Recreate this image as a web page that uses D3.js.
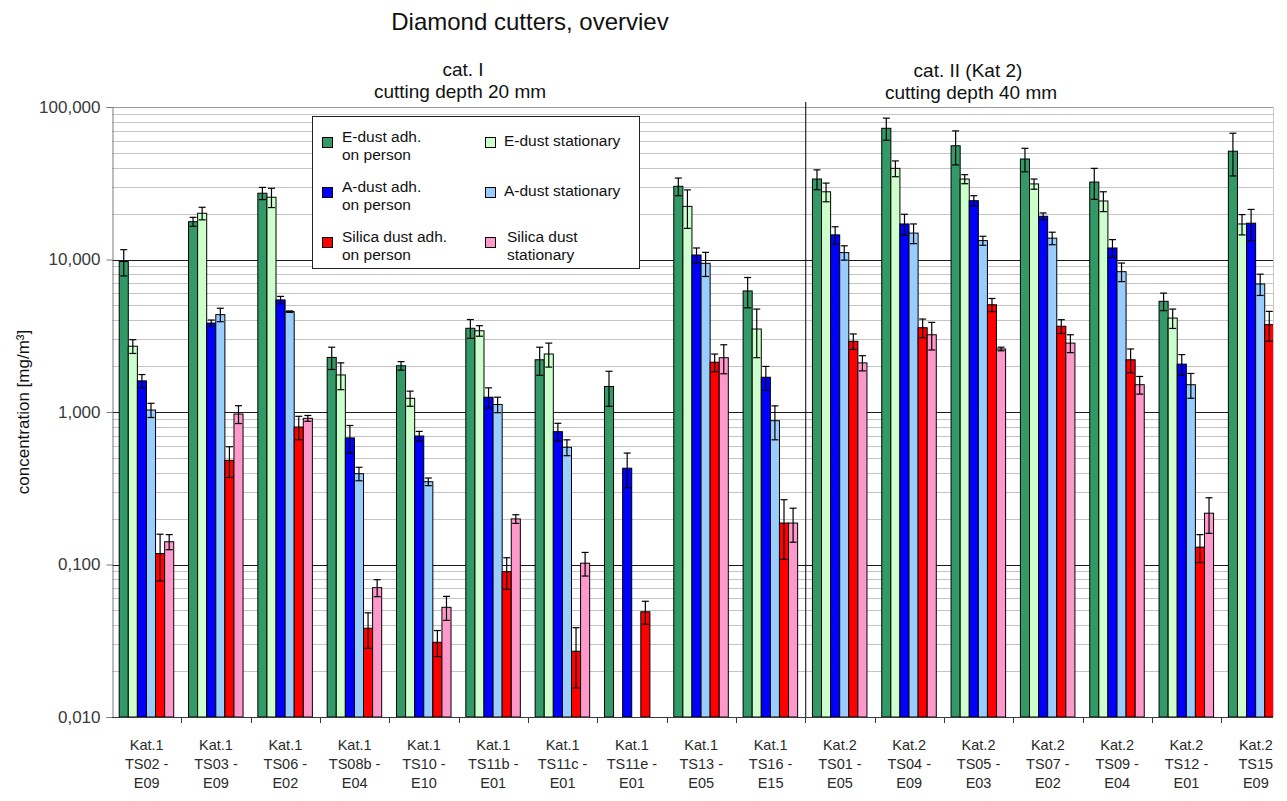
<!DOCTYPE html>
<html><head><meta charset="utf-8">
<script src="https://cdn.jsdelivr.net/npm/d3@7/dist/d3.min.js"></script>
<style>
html,body{margin:0;padding:0;background:#fff;}
svg{display:block;font-family:"Liberation Sans",Arial,sans-serif;}
</style></head>
<body><svg id="chart" width="1287" height="801"></svg>
<script>
// ---------- DATA ----------
const categories = ["Kat.1 TS02 - E09","Kat.1 TS03 - E09","Kat.1 TS06 - E02","Kat.1 TS08b - E04","Kat.1 TS10 - E10",
  "Kat.1 TS11b - E01","Kat.1 TS11c - E01","Kat.1 TS11e - E01","Kat.1 TS13 - E05","Kat.1 TS16 - E15",
  "Kat.2 TS01 - E05","Kat.2 TS04 - E09","Kat.2 TS05 - E03","Kat.2 TS07 - E02","Kat.2 TS09 - E04","Kat.2 TS12 - E01","Kat.2 TS15 E09"];
const categoryLines = [["Kat.1","TS02 -","E09"],["Kat.1","TS03 -","E09"],["Kat.1","TS06 -","E02"],["Kat.1","TS08b -","E04"],
  ["Kat.1","TS10 -","E10"],["Kat.1","TS11b -","E01"],["Kat.1","TS11c -","E01"],["Kat.1","TS11e -","E01"],
  ["Kat.1","TS13 -","E05"],["Kat.1","TS16 -","E15"],["Kat.2","TS01 -","E05"],["Kat.2","TS04 -","E09"],
  ["Kat.2","TS05 -","E03"],["Kat.2","TS07 -","E02"],["Kat.2","TS09 -","E04"],["Kat.2","TS12 -","E01"],["Kat.2","TS15","E09"]];

const seriesNames = ["E-dust adh. on person","E-dust stationary","A-dust adh. on person","A-dust stationary","Silica dust adh. on person","Silica dust stationary"];

const eAdh     = [9.7, 17.7, 27.2, 2.28, 2.01, 3.54, 2.20, 1.47, 30.2, 6.22, 33.7, 72.5, 55.7, 45.6, 32.2, 5.32, 51.3];
const eAdhErr  = [1.9, 1.2, 2.5, 0.38, 0.13, 0.5, 0.46, 0.38, 4.0, 1.4, 5.0, 12, 14, 8, 7.4, 0.7, 16];
const eSta     = [2.70, 20.1, 25.6, 1.75, 1.23, 3.41, 2.40, null, 22.3, 3.50, 27.8, 39.6, 33.7, 31.3, 24.2, 4.13, 17.1];
const eStaErr  = [0.28, 1.9, 3.7, 0.35, 0.14, 0.27, 0.43, null, 6.3, 1.23, 3.9, 4.7, 2.3, 2.4, 3.6, 0.6, 2.6];
const aAdh     = [1.60, 3.83, 5.43, 0.676, 0.696, 1.25, 0.743, 0.428, 10.7, 1.69, 14.5, 17.1, 24.3, 19.2, 11.9, 2.06, 17.3];
const aAdhErr  = [0.16, 0.18, 0.3, 0.14, 0.05, 0.19, 0.10, 0.11, 1.2, 0.3, 1.9, 2.7, 1.9, 1.0, 1.6, 0.32, 4.0];
const aSta     = [1.03, 4.35, 4.55, 0.394, 0.349, 1.12, 0.587, null, 9.44, 0.877, 11.1, 14.9, 13.3, 13.8, 8.32, 1.51, 6.91];
const aStaErr  = [0.11, 0.44, 0.05, 0.04, 0.02, 0.13, 0.07, null, 1.7, 0.22, 1.2, 2.2, 0.9, 1.3, 1.16, 0.28, 1.1];
const sAdh     = [0.118, 0.482, 0.797, 0.0382, 0.0309, 0.0897, 0.027, 0.049, 2.12, 0.187, 2.91, 3.57, 5.05, 3.65, 2.20, 0.130, 3.74];
const sAdhErr  = [0.04, 0.11, 0.14, 0.010, 0.006, 0.021, 0.0115, 0.0084, 0.28, 0.079, 0.34, 0.5, 0.5, 0.38, 0.39, 0.027, 0.83];
const sSta     = [0.141, 0.97, 0.909, 0.0705, 0.0524, 0.199, 0.102, null, 2.27, 0.187, 2.10, 3.21, 2.59, 2.83, 1.51, 0.217, 1.53];
const sStaErr  = [0.016, 0.13, 0.04, 0.009, 0.0094, 0.013, 0.018, null, 0.49, 0.047, 0.24, 0.66, 0.07, 0.38, 0.2, 0.057, 0.3];

const yTicks = [0.01, 0.1, 1, 10, 100];

// ---------- BUILD ----------
const seriesValues = [eAdh, eSta, aAdh, aSta, sAdh, sSta];
const seriesErrors = [eAdhErr, eStaErr, aAdhErr, aStaErr, sAdhErr, sStaErr];
const colors = ["#339966","#ccffcc","#0000ff","#99ccff","#ff0000","#ff99cc"];

const svg = d3.select("#chart");
const pL = 112, pR = 1290.5, pT = 107, pB = 717, clipR = 1273;

const x0 = d3.scaleBand().domain(categories).range([pL, pR]).padding(0);
const x1 = d3.scaleBand().domain(seriesNames).range([7.2, x0.bandwidth() - 7.6]).padding(0);
const y = d3.scaleLog().domain([0.01, 100]).range([pB, pT]);

svg.append("defs").append("clipPath").attr("id","plotclip")
  .append("rect").attr("x", pL).attr("y", pT - 40).attr("width", clipR - pL).attr("height", pB - pT + 40);

// gridlines
const minor = [];
for (let d = 0.01; d < 99; d *= 10) for (let k = 2; k <= 9; k++) minor.push(+(d * k).toPrecision(3));
const grid = svg.append("g");
grid.selectAll("line.minor").data(minor).join("line")
  .attr("x1", pL).attr("x2", clipR).attr("y1", d => Math.round(y(d)) + 0.5).attr("y2", d => Math.round(y(d)) + 0.5)
  .attr("stroke", "#c4c4c4").attr("stroke-width", 1);
grid.selectAll("line.major").data([0.1, 1, 10]).join("line")
  .attr("x1", pL).attr("x2", clipR).attr("y1", d => Math.round(y(d)) + 0.5).attr("y2", d => Math.round(y(d)) + 0.5)
  .attr("stroke", "#1a1a1a").attr("stroke-width", 1);
svg.append("line").attr("x1", pL).attr("x2", clipR).attr("y1", pT + 0.5).attr("y2", pT + 0.5).attr("stroke", "#9a9a9a");
svg.append("line").attr("x1", clipR + 0.5).attr("x2", clipR + 0.5).attr("y1", pT).attr("y2", pB).attr("stroke", "#c8c8c8");

// bars
const rows = [];
seriesNames.forEach((s, si) => categories.forEach((c, ci) => {
  const v = seriesValues[si][ci];
  if (v != null) rows.push({s, si, c, ci, v, e: seriesErrors[si][ci]});
}));
const plot = svg.append("g").attr("clip-path", "url(#plotclip)");
plot.selectAll("rect.bar").data(rows).join("rect")
  .attr("x", d => x0(d.c) + x1(d.s))
  .attr("width", x1.bandwidth())
  .attr("y", d => y(d.v))
  .attr("height", d => pB - y(d.v))
  .attr("fill", d => colors[d.si])
  .attr("stroke", "#000").attr("stroke-width", 1);

// error bars
const eb = plot.selectAll("g.err").data(rows.filter(d => d.e)).join("g").attr("stroke", "#000").attr("stroke-width", 1.2);
const cx = d => x0(d.c) + x1(d.s) + x1.bandwidth() / 2;
const lo = d => y(Math.max(d.v - d.e, 0.0101));
eb.append("line").attr("x1", cx).attr("x2", cx).attr("y1", d => y(d.v + d.e)).attr("y2", lo);
eb.append("line").attr("x1", d => cx(d) - 3.5).attr("x2", d => cx(d) + 3.5).attr("y1", d => y(d.v + d.e)).attr("y2", d => y(d.v + d.e));
eb.append("line").attr("x1", d => cx(d) - 3.5).attr("x2", d => cx(d) + 3.5).attr("y1", lo).attr("y2", lo);

// y axis
const fmt = d3.formatLocale({decimal: ",", thousands: ".", grouping: [3], currency: ["", ""]}).format(".3f");
const yAxis = svg.append("g").attr("transform", `translate(${pL + 0.5},0)`)
  .call(d3.axisLeft(y).tickValues(yTicks).tickFormat(fmt).tickSize(6).tickPadding(6));
yAxis.select(".domain").attr("stroke", "#7a7a7a");
yAxis.selectAll(".tick line").attr("stroke", "#7a7a7a");
yAxis.selectAll(".tick text").attr("font-size", 17).attr("fill", "#3a3a3a").attr("font-family", "Liberation Sans, Arial, sans-serif");

// x axis
const xAxis = svg.append("g").attr("transform", `translate(0,${pB + 0.5})`)
  .call(d3.axisBottom(x0).tickSize(0).tickFormat(""));
xAxis.select(".domain").attr("stroke", "#3a3a3a").attr("d", `M${pL},0H${clipR}`);
svg.append("g").selectAll("line").data(categories.slice(1)).join("line")
  .attr("x1", d => Math.round(x0(d)) + 0.5).attr("x2", d => Math.round(x0(d)) + 0.5)
  .attr("y1", pB).attr("y2", pB + 6).attr("stroke", "#3a3a3a");
const xl = svg.append("g").attr("font-size", 14.5).attr("fill", "#2a2a2a").attr("text-anchor", "middle");
categories.forEach((c, i) => {
  const t = xl.append("text").attr("x", x0(c) + x0.bandwidth() / 2);
  categoryLines[i].forEach((ln, j) => t.append("tspan").attr("x", x0(c) + x0.bandwidth() / 2).attr("y", 750 + j * 19).text(ln));
});

// separator between categories
svg.append("line").attr("x1", x0(categories[10]) + 0.5).attr("x2", x0(categories[10]) + 0.5)
  .attr("y1", 102).attr("y2", pB).attr("stroke", "#000");

// titles
svg.append("text").attr("x", 530).attr("y", 30).attr("text-anchor", "middle").attr("font-size", 24).attr("fill", "#111")
  .text("Diamond cutters, overviev");
const h1 = svg.append("g").attr("font-size", 19).attr("fill", "#111").attr("text-anchor", "middle");
const t1 = h1.append("text");
t1.append("tspan").attr("x", 463).attr("y", 76).text("cat. I");
t1.append("tspan").attr("x", 460).attr("y", 97.5).text("cutting depth 20 mm");
const t2 = h1.append("text");
t2.append("tspan").attr("x", 968).attr("y", 77).text("cat. II (Kat 2)");
t2.append("tspan").attr("x", 971).attr("y", 98.5).text("cutting depth 40 mm");

// y label
svg.append("text").attr("transform", "translate(29,412) rotate(-90)").attr("text-anchor", "middle")
  .attr("font-size", 17).attr("fill", "#111").text("concentration [mg/m³]");

// legend
const lg = svg.append("g");
lg.append("rect").attr("x", 312.5).attr("y", 116.5).attr("width", 327).attr("height", 152)
  .attr("fill", "#fff").attr("stroke", "#222").attr("stroke-width", 1);
const legendItems = [
  {si: 0, x: 322, y: 137, lines: ["E-dust adh.", "on person"], tx: 342},
  {si: 2, x: 322, y: 187, lines: ["A-dust adh.", "on person"], tx: 342},
  {si: 4, x: 322, y: 237, lines: ["Silica dust adh.", "on person"], tx: 342},
  {si: 1, x: 485, y: 137, lines: ["E-dust stationary"], tx: 504},
  {si: 3, x: 485, y: 187, lines: ["A-dust stationary"], tx: 504},
  {si: 5, x: 485, y: 237, lines: ["Silica dust", "stationary"], tx: 507}
];
legendItems.forEach(it => {
  lg.append("rect").attr("x", it.x + 0.5).attr("y", it.y + 0.5).attr("width", 10).attr("height", 10)
    .attr("fill", colors[it.si]).attr("stroke", "#000");
  const t = lg.append("text").attr("font-size", 15.5).attr("fill", "#111");
  if (it.lines.length === 1) {
    t.append("tspan").attr("x", it.tx).attr("y", it.y + 9).text(it.lines[0]);
  } else {
    it.lines.forEach((ln, j) => t.append("tspan").attr("x", it.tx).attr("y", it.y + 5 + j * 18).text(ln));
  }
});
</script></body></html>
